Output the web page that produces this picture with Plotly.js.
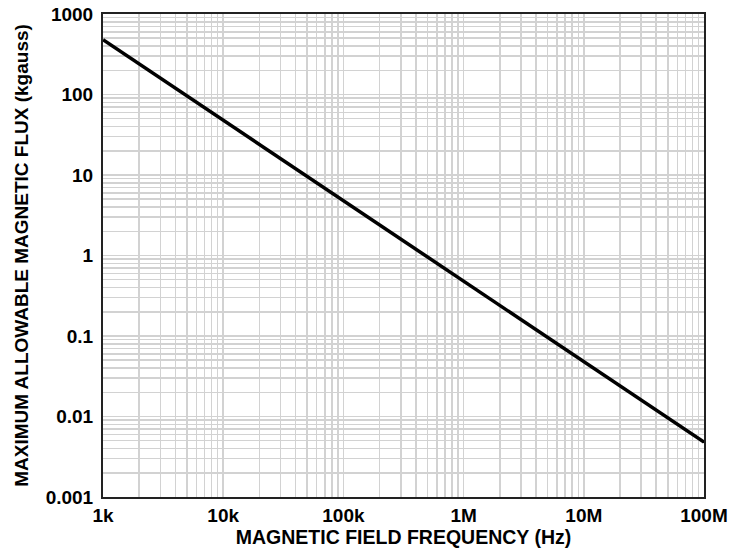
<!DOCTYPE html>
<html>
<head>
<meta charset="utf-8">
<script src="https://cdn.plot.ly/plotly-3.0.1.min.js"></script>
<style>html,body{margin:0;padding:0;background:#fff;}#chart{width:730px;height:552px;}</style>
</head>
<body>
<div id="chart"></div>
<script>
const frequencyHz = [1e3, 1e4, 1e5, 1e6, 1e7, 1e8];
const maxFluxKgauss = [480, 48, 4.8, 0.48, 0.048, 0.0048];
const xTickVals = [1e3, 1e4, 1e5, 1e6, 1e7, 1e8];
const xTickText = ['1k', '10k', '100k', '1M', '10M', '100M'];
const yTickVals = [0.001, 0.01, 0.1, 1, 10, 100, 1000];
const yTickText = ['0.001', '0.01', '0.1', '1', '10', '100', '1000'];

const font = {family: 'Liberation Sans, Arial, sans-serif', color: '#000'};

Plotly.newPlot('chart', [{
  x: frequencyHz,
  y: maxFluxKgauss,
  type: 'scatter',
  mode: 'lines',
  line: {color: '#000', width: 3.5},
  hoverinfo: 'skip'
}], {
  width: 730, height: 552,
  margin: {l: 103, r: 26, t: 14, b: 55},
  paper_bgcolor: '#fff', plot_bgcolor: '#fff',
  showlegend: false,
  xaxis: {
    type: 'log', range: [3, 8],
    tickvals: xTickVals, ticktext: xTickText,
    tickfont: Object.assign({size: 19, weight: 'bold'}, font),
    showgrid: true, gridcolor: '#d2d2d2', gridwidth: 1.5,
    minor: {showgrid: true, gridcolor: '#d2d2d2', gridwidth: 1.5, dtick: 'D1'},
    showline: true, linecolor: '#222', linewidth: 2, mirror: true,
    ticks: '', zeroline: false, ticklabelstandoff: 0,
    title: {text: 'MAGNETIC FIELD FREQUENCY (Hz)', font: Object.assign({size: 19.5, weight: 'bold'}, font), standoff: 3}
  },
  yaxis: {
    type: 'log', range: [-3, 3],
    tickvals: yTickVals, ticktext: yTickText,
    tickfont: Object.assign({size: 19, weight: 'bold'}, font),
    showgrid: true, gridcolor: '#d2d2d2', gridwidth: 1.5,
    minor: {showgrid: true, gridcolor: '#d2d2d2', gridwidth: 1.5, dtick: 'D1'},
    showline: true, linecolor: '#222', linewidth: 2, mirror: true,
    ticks: '', zeroline: false, ticklabelstandoff: 4,
    title: {text: 'MAXIMUM ALLOWABLE MAGNETIC FLUX (kgauss)', font: Object.assign({size: 19, weight: 'bold'}, font), standoff: 12}
  }
}, {displayModeBar: false, staticPlot: true});
</script>
</body>
</html>
